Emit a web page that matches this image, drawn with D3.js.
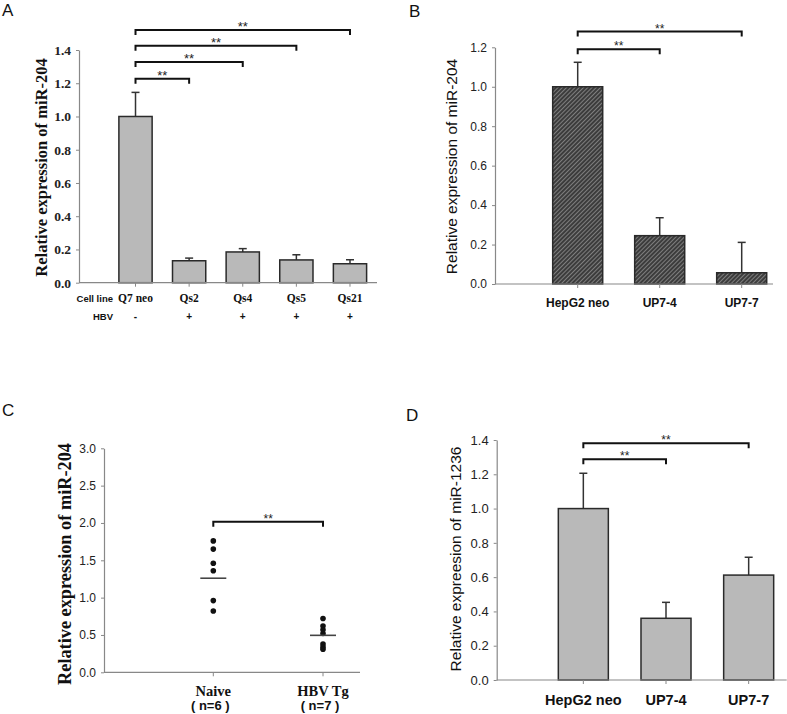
<!DOCTYPE html>
<html>
<head>
<meta charset="utf-8">
<script src="https://cdn.jsdelivr.net/npm/d3@7"></script>
<style>
  body { margin: 0; background: #fff; }
  svg { display: block; }
</style>
</head>
<body>
<script>
// panel A - miR-204 in cell lines
var aCells = ["Q7 neo", "Qs2", "Qs4", "Qs5", "Qs21"];
var aHbv = ["-", "+", "+", "+", "+"];
var aMeans = [1.0, 0.132, 0.185, 0.137, 0.114];
var aErrs = [0.145, 0.016, 0.02, 0.031, 0.024];
var aTicks = [0, 0.2, 0.4, 0.6, 0.8, 1.0, 1.2, 1.4];
var aBracketTo = ["Qs2", "Qs4", "Qs5", "Qs21"];
var aBracketY = [1.227, 1.328, 1.426, 1.52];

// panel B - miR-204 in HepG2
var bCells = ["HepG2 neo", "UP7-4", "UP7-7"];
var bMeans = [1.0, 0.245, 0.057];
var bErrs = [0.124, 0.091, 0.154];
var bTicks = [0, 0.2, 0.4, 0.6, 0.8, 1.0, 1.2];
var bBracketTo = ["UP7-4", "UP7-7"];
var bBracketY = [1.19, 1.28];

// panel C - mice
var cGroups = ["Naive", "HBV Tg"];
var cCounts = ["( n=6 )", "( n=7 )"];
var cNaive = [1.76, 1.65, 1.46, 1.36, 0.96, 0.82];
var cTg = [0.72, 0.62, 0.57, 0.52, 0.38, 0.34, 0.31];
var cMeanLine = [1.26, 0.495];
var cTicks = [0, 0.5, 1.0, 1.5, 2.0, 2.5, 3.0];
var cBracketY = 2.017;

// panel D - miR-1236
var dCells = ["HepG2 neo", "UP7-4", "UP7-7"];
var dMeans = [1.0, 0.36, 0.612];
var dErrs = [0.206, 0.093, 0.104];
var dTicks = [0, 0.2, 0.4, 0.6, 0.8, 1.0, 1.2, 1.4];
var dBracketTo = ["UP7-4", "UP7-7"];
var dBracketY = [1.288, 1.381];

var width = 787, height = 714;
var serif = "'Liberation Serif','Times New Roman',serif";
var sans = "'Liberation Sans',Arial,sans-serif";
var fmt = d3.format(".1f");

var svg = d3.select('body').append('svg')
  .attr('width', width)
  .attr('height', height);

// hatch for panel B
var pat = svg.append('defs').append('pattern')
  .attr('id', 'hatch')
  .attr('patternUnits', 'userSpaceOnUse')
  .attr('width', 3).attr('height', 3)
  .attr('patternTransform', 'rotate(45)');
pat.append('rect').attr('width', 3).attr('height', 3).attr('fill', '#3c3c3c');
pat.append('line').attr('x1', 0).attr('y1', 0).attr('x2', 0).attr('y2', 3)
  .attr('stroke', '#9a9a9a').attr('stroke-width', 1.4);

function letter(t, x, y) {
  svg.append('text').text(t).attr('x', x).attr('y', y)
    .attr('font-family', sans).attr('font-size', 17).attr('fill', '#111');
}

function yAxis(c, y) {
  var g = svg.append('g').attr('transform', 'translate(' + c.axisX + ',0)')
    .call(d3.axisLeft(y).tickValues(c.ticks).tickFormat(fmt)
      .tickSize(3).tickSizeOuter(0).tickPadding(5));
  g.select('.domain').attr('stroke', '#888').attr('stroke-width', 1.2);
  g.selectAll('.tick line').attr('stroke', '#888');
  g.selectAll('.tick text').attr('font-family', c.tickFont)
    .attr('font-weight', c.tickWeight).attr('font-size', c.tickSize).attr('fill', '#222');
  svg.append('text').text(c.label)
    .attr('transform', 'translate(' + c.labelX + ',' + c.labelY + ') rotate(-90)')
    .attr('text-anchor', 'middle').attr('dominant-baseline', 'central')
    .attr('font-family', c.labelFont).attr('font-weight', c.labelWeight)
    .attr('font-size', c.labelSize).attr('fill', '#111');
}

function xBase(c, x, y) {
  svg.append('line')
    .attr('x1', c.axisX).attr('x2', c.axisEnd)
    .attr('y1', y(0)).attr('y2', y(0))
    .attr('stroke', '#888').attr('stroke-width', 1.2);
  svg.selectAll(null).data(x.domain()).enter().append('line')
    .attr('x1', function(d){ return x(d) + (x.bandwidth ? x.bandwidth()/2 : 0); })
    .attr('x2', function(d){ return x(d) + (x.bandwidth ? x.bandwidth()/2 : 0); })
    .attr('y1', y(0)).attr('y2', y(0) + 4)
    .attr('stroke', '#888');
}

function brackets(from, to, levels, cx, y, starSize) {
  levels.forEach(function(lv, i){
    var x1 = cx(from), x2 = cx(to[i]), yy = y(lv);
    svg.append('path')
      .attr('d', 'M' + x1 + ',' + (yy + 5) + 'V' + yy + 'H' + x2 + 'V' + (yy + 5))
      .attr('fill', 'none').attr('stroke', '#111').attr('stroke-width', 2);
    svg.append('text').text('**')
      .attr('x', (x1 + x2) / 2).attr('y', yy + 1)
      .attr('text-anchor', 'middle')
      .attr('font-family', sans).attr('font-size', starSize).attr('fill', '#222');
  });
}

function barPanel(c) {
  var y = d3.scaleLinear().domain([0, c.ticks[c.ticks.length - 1]]).range(c.yRange);
  var x = d3.scaleBand().domain(c.cells).range(c.xRange)
    .paddingInner(c.pad).paddingOuter(c.pad / 2);
  var cx = function(d){ return x(d) + x.bandwidth() / 2; };

  yAxis(c, y);

  // error bars first, bar covers lower half
  svg.selectAll(null).data(c.cells).enter().append('line')
    .attr('x1', cx).attr('x2', cx)
    .attr('y1', function(d, i){ return y(c.means[i]); })
    .attr('y2', function(d, i){ return y(c.means[i] + c.errs[i]); })
    .attr('stroke', '#333').attr('stroke-width', 1.5);
  svg.selectAll(null).data(c.cells).enter().append('line')
    .attr('x1', function(d){ return cx(d) - 4; })
    .attr('x2', function(d){ return cx(d) + 4; })
    .attr('y1', function(d, i){ return y(c.means[i] + c.errs[i]); })
    .attr('y2', function(d, i){ return y(c.means[i] + c.errs[i]); })
    .attr('stroke', '#333').attr('stroke-width', 1.5);

  svg.selectAll(null).data(c.cells).enter().append('rect')
    .attr('x', function(d){ return x(d); })
    .attr('width', x.bandwidth())
    .attr('y', function(d, i){ return y(c.means[i]); })
    .attr('height', function(d, i){ return y(0) - y(c.means[i]); })
    .attr('fill', c.fill).attr('stroke', '#2a2a2a').attr('stroke-width', 1.5);

  xBase(c, x, y);

  svg.selectAll(null).data(c.cells).enter().append('text')
    .text(function(d){ return d; })
    .attr('x', cx).attr('y', c.catY)
    .attr('text-anchor', 'middle')
    .attr('font-family', c.catFont).attr('font-weight', 'bold')
    .attr('font-size', c.catSize).attr('fill', '#111');

  brackets(c.cells[0], c.bracketTo, c.bracketY, cx, y, c.starSize);
  return { x: x, y: y, cx: cx };
}

// ---- A
letter('A', 2, 16);
var A = barPanel({
  cells: aCells, means: aMeans, errs: aErrs, ticks: aTicks,
  yRange: [282.7, 50], xRange: [108.7, 376.8], pad: 0.38,
  axisX: 79, axisEnd: 377,
  tickFont: serif, tickWeight: 'bold', tickSize: 13.5,
  label: 'Relative expression of miR-204', labelX: 41.5, labelY: 167.5,
  labelFont: serif, labelWeight: 'bold', labelSize: 16.5,
  fill: '#b9b9b9', catY: 302, catFont: serif, catSize: 11.5,
  bracketTo: aBracketTo, bracketY: aBracketY, starSize: 13
});
svg.append('text').text('Cell line').attr('x', 113).attr('y', 302)
  .attr('text-anchor', 'end').attr('font-family', sans).attr('font-weight', 'bold')
  .attr('font-size', 9.5).attr('fill', '#111');
svg.append('text').text('HBV').attr('x', 113).attr('y', 320)
  .attr('text-anchor', 'end').attr('font-family', sans).attr('font-weight', 'bold')
  .attr('font-size', 9.5).attr('fill', '#111');
svg.selectAll(null).data(aHbv).enter().append('text')
  .text(function(d){ return d; })
  .attr('x', function(d, i){ return A.cx(aCells[i]); }).attr('y', 320)
  .attr('text-anchor', 'middle').attr('font-family', sans).attr('font-weight', 'bold')
  .attr('font-size', 10).attr('fill', '#111');

// ---- B
letter('B', 409, 17);
barPanel({
  cells: bCells, means: bMeans, errs: bErrs, ticks: bTicks,
  yRange: [284, 47.3], xRange: [536.7, 782.7], pad: 0.39,
  axisX: 495, axisEnd: 773,
  tickFont: sans, tickWeight: 'normal', tickSize: 12,
  label: 'Relative expression of miR-204', labelX: 451.5, labelY: 166.5,
  labelFont: sans, labelWeight: 'normal', labelSize: 15.5,
  fill: 'url(#hatch)', catY: 307, catFont: sans, catSize: 12,
  bracketTo: bBracketTo, bracketY: bBracketY, starSize: 12
});

// ---- C
letter('C', 2, 416);
(function(){
  var c = {
    ticks: cTicks, axisX: 104, axisEnd: 360,
    tickFont: sans, tickWeight: 'normal', tickSize: 12,
    label: 'Relative expression of miR-204', labelX: 65, labelY: 564,
    labelFont: serif, labelWeight: 'bold', labelSize: 18.3
  };
  var y = d3.scaleLinear().domain([0, 3]).range([672.3, 448.3]);
  var x = d3.scalePoint().domain(cGroups).range([213.3, 323]);
  yAxis(c, y);
  xBase(c, x, y);

  var groups = [cNaive, cTg];
  groups.forEach(function(vals, gi){
    svg.selectAll(null).data(vals).enter().append('circle')
      .attr('cx', x(cGroups[gi])).attr('cy', function(d){ return y(d); })
      .attr('r', 2.8).attr('fill', '#111');
  });
  svg.selectAll(null).data(cMeanLine).enter().append('line')
    .attr('x1', function(d, i){ return x(cGroups[i]) - 13; })
    .attr('x2', function(d, i){ return x(cGroups[i]) + 13; })
    .attr('y1', function(d){ return y(d); })
    .attr('y2', function(d){ return y(d); })
    .attr('stroke', '#444').attr('stroke-width', 1.6);

  svg.selectAll(null).data(cGroups).enter().append('text')
    .text(function(d){ return d; })
    .attr('x', function(d){ return x(d); }).attr('y', 696)
    .attr('text-anchor', 'middle').attr('font-family', serif).attr('font-weight', 'bold')
    .attr('font-size', 14.5).attr('fill', '#111');
  svg.selectAll(null).data(cCounts).enter().append('text')
    .text(function(d){ return d; })
    .attr('x', function(d, i){ return x(cGroups[i]) - 3; }).attr('y', 710)
    .attr('text-anchor', 'middle').attr('font-family', sans).attr('font-weight', 'bold')
    .attr('font-size', 13).attr('fill', '#111');

  brackets(cGroups[0], [cGroups[1]], [cBracketY], function(d){ return x(d); }, y, 12);
})();

// ---- D
letter('D', 406, 421);
barPanel({
  cells: dCells, means: dMeans, errs: dErrs, ticks: dTicks,
  yRange: [680, 440], xRange: [542, 790], pad: 0.395,
  axisX: 496.7, axisEnd: 786.7,
  tickFont: sans, tickWeight: 'normal', tickSize: 13,
  label: 'Relative expreesion of miR-1236', labelX: 455, labelY: 559,
  labelFont: sans, labelWeight: 'normal', labelSize: 15.5,
  fill: '#b9b9b9', catY: 705, catFont: sans, catSize: 14.5,
  bracketTo: dBracketTo, bracketY: dBracketY, starSize: 12
});
</script>
</body>
</html>
